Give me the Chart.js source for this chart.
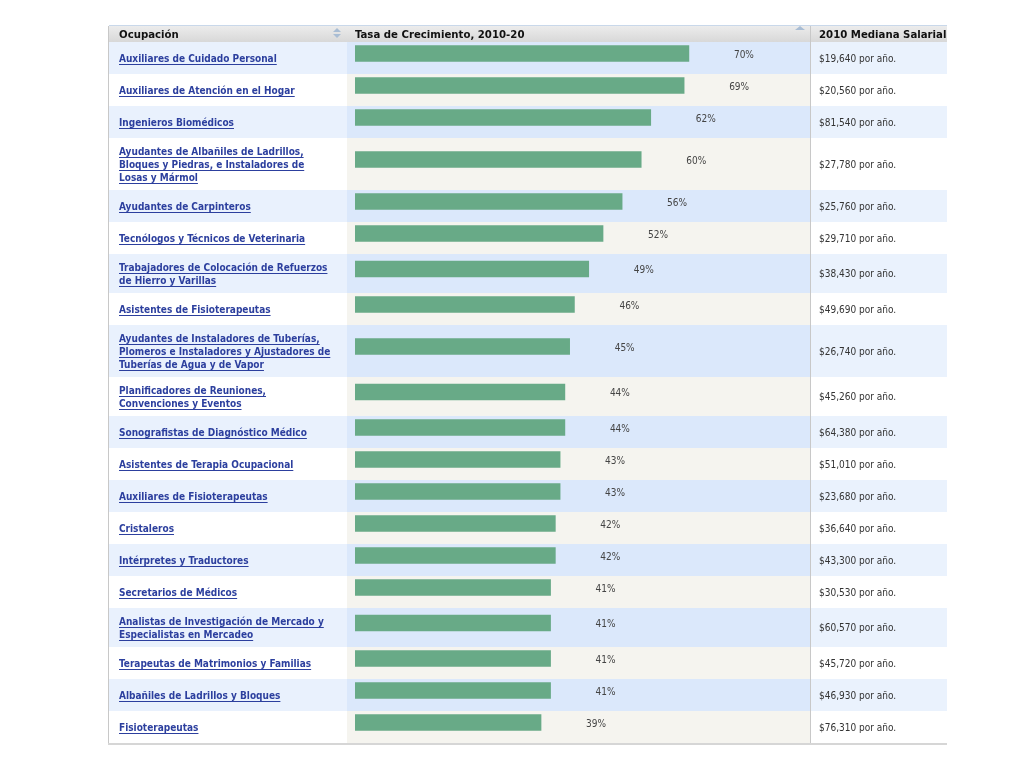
<!DOCTYPE html>
<html>
<head>
<meta charset="utf-8">
<script src="https://cdn.jsdelivr.net/npm/chart.js@4.4.1/dist/chart.umd.min.js"></script>
<style>
  html, body { margin: 0; background: #fff; }
  canvas { display: block; }
</style>
</head>
<body>
<canvas id="growthChart" width="1024" height="768"></canvas>
<script>
// datos de la tabla
const occupations = [
  'Auxiliares de Cuidado Personal',
  'Auxiliares de Atención en el Hogar',
  'Ingenieros Biomédicos',
  'Ayudantes de Albañiles de Ladrillos,\nBloques y Piedras, e Instaladores de\nLosas y Mármol',
  'Ayudantes de Carpinteros',
  'Tecnólogos y Técnicos de Veterinaria',
  'Trabajadores de Colocación de Refuerzos\nde Hierro y Varillas',
  'Asistentes de Fisioterapeutas',
  'Ayudantes de Instaladores de Tuberías,\nPlomeros e Instaladores y Ajustadores de\nTuberías de Agua y de Vapor',
  'Planificadores de Reuniones,\nConvenciones y Eventos',
  'Sonografistas de Diagnóstico Médico',
  'Asistentes de Terapia Ocupacional',
  'Auxiliares de Fisioterapeutas',
  'Cristaleros',
  'Intérpretes y Traductores',
  'Secretarios de Médicos',
  'Analistas de Investigación de Mercado y\nEspecialistas en Mercadeo',
  'Terapeutas de Matrimonios y Familias',
  'Albañiles de Ladrillos y Bloques',
  'Fisioterapeutas'
];
const growth = [70, 69, 62, 60, 56, 52, 49, 46, 45, 44, 44, 43, 43, 42, 42, 41, 41, 41, 41, 39];
const salaries = [19640, 20560, 81540, 27780, 25760, 29710, 38430, 49690, 26740, 45260,
                  64380, 51010, 23680, 36640, 43300, 30530, 60570, 45720, 46930, 76310];
const headers = ['Ocupación', 'Tasa de Crecimiento, 2010-20', '2010 Mediana Salarial'];

// layout de la tabla
const TABLE_LEFT = 109, COL_BAR = 347, COL_SAL = 810, TABLE_RIGHT = 947;
const HEAD_TOP = 26, ROWS_TOP = 42;
const ROW_H = { 1: 32, 2: 39, 3: 52 };
const LINE_H = 13;

const lines = occupations.map(o => o.split('\n'));
const heights = lines.map(l => ROW_H[l.length]);
const tops = [];
let acc = 0;
heights.forEach(h => { tops.push(acc); acc += h; });
const totalH = acc;
const centers = tops.map((t, i) => t + heights[i] / 2);

const FONT_LINK = 'bold 10px "DejaVu Sans Condensed", "DejaVu Sans", sans-serif';
const FONT_TEXT = '10px "DejaVu Sans Condensed", "DejaVu Sans", sans-serif';
const FONT_HEAD = 'bold 11.3px "DejaVu Sans Condensed", "DejaVu Sans", sans-serif';

const tablePlugin = {
  id: 'tablePlugin',
  beforeDatasetsDraw(chart) {
    const ctx = chart.ctx;
    const y = chart.scales.y;
    ctx.save();
    // encabezado
    const g = ctx.createLinearGradient(0, HEAD_TOP, 0, ROWS_TOP);
    g.addColorStop(0, '#ececec');
    g.addColorStop(1, '#d8d8d8');
    ctx.fillStyle = g;
    ctx.fillRect(TABLE_LEFT, HEAD_TOP, TABLE_RIGHT - TABLE_LEFT, ROWS_TOP - HEAD_TOP);
    ctx.fillStyle = '#c9d8ea';
    ctx.fillRect(TABLE_LEFT, HEAD_TOP - 1, TABLE_RIGHT - TABLE_LEFT, 1);
    // filas
    tops.forEach((t, i) => {
      const y0 = y.getPixelForValue(t);
      const y1 = y.getPixelForValue(t + heights[i]);
      const odd = i % 2 === 0;
      ctx.fillStyle = odd ? '#e9f1fd' : '#ffffff';
      ctx.fillRect(TABLE_LEFT, y0, COL_BAR - TABLE_LEFT, y1 - y0);
      ctx.fillStyle = odd ? '#dbe8fb' : '#f5f4ef';
      ctx.fillRect(COL_BAR, y0, COL_SAL - COL_BAR, y1 - y0);
      ctx.fillStyle = odd ? '#eaf2fd' : '#ffffff';
      ctx.fillRect(COL_SAL, y0, TABLE_RIGHT - COL_SAL, y1 - y0);
    });
    ctx.restore();
  },
  afterDatasetsDraw(chart) {
    const ctx = chart.ctx;
    const y = chart.scales.y;
    const bars = chart.getDatasetMeta(0).data;
    const bottom = y.getPixelForValue(totalH);
    ctx.save();

    // bordes
    ctx.fillStyle = '#c8c8c8';
    ctx.fillRect(TABLE_LEFT - 1, HEAD_TOP, 1, bottom - HEAD_TOP + 2);
    ctx.fillRect(COL_SAL, HEAD_TOP, 1, bottom - HEAD_TOP);
    ctx.fillStyle = '#d6d6d6';
    ctx.fillRect(TABLE_LEFT - 1, bottom, TABLE_RIGHT - TABLE_LEFT + 1, 2);

    // textos del encabezado
    ctx.save();
    ctx.beginPath();
    ctx.rect(TABLE_LEFT, HEAD_TOP, TABLE_RIGHT - TABLE_LEFT, ROWS_TOP - HEAD_TOP);
    ctx.clip();
    ctx.font = FONT_HEAD;
    ctx.fillStyle = '#111';
    ctx.textBaseline = 'alphabetic';
    ctx.textAlign = 'left';
    ctx.fillText(headers[0], 119, 38);
    ctx.fillText(headers[1], 355, 38);
    ctx.fillText(headers[2], 819, 38);
    ctx.restore();

    // iconos de orden
    ctx.fillStyle = '#a9bdd4';
    ctx.beginPath();
    ctx.moveTo(333, 32); ctx.lineTo(337, 28); ctx.lineTo(341, 32); ctx.closePath();
    ctx.moveTo(333, 34); ctx.lineTo(337, 38); ctx.lineTo(341, 34); ctx.closePath();
    ctx.fill();
    ctx.beginPath();
    ctx.moveTo(795, 30); ctx.lineTo(800, 26); ctx.lineTo(805, 30); ctx.closePath();
    ctx.fill();

    // ocupaciones (enlaces)
    ctx.font = FONT_LINK;
    ctx.textAlign = 'left';
    ctx.textBaseline = 'alphabetic';
    lines.forEach((ls, i) => {
      const cy = y.getPixelForValue(centers[i]);
      const first = cy - (ls.length - 1) * LINE_H / 2;
      ls.forEach((txt, k) => {
        const base = Math.round(first + k * LINE_H + 3.5);
        ctx.fillStyle = '#2c3f9e';
        ctx.fillText(txt, 119, base);
        const w = ctx.measureText(txt).width;
        ctx.fillRect(119, base + 2, w, 1);
      });
    });

    // porcentajes y salarios
    ctx.font = FONT_TEXT;
    bars.forEach((bar, i) => {
      const cy = y.getPixelForValue(centers[i]);
      ctx.fillStyle = '#444';
      ctx.textAlign = 'center';
      ctx.fillText(growth[i] + '%', bar.x + 55, Math.round(cy - 0.5));
      ctx.fillStyle = '#333';
      ctx.textAlign = 'left';
      ctx.fillText('$' + salaries[i].toLocaleString('en-US') + ' por año.', 819, Math.round(cy + 3.5));
    });
    ctx.restore();
  }
};

new Chart(document.getElementById('growthChart'), {
  type: 'bar',
  data: {
    datasets: [{
      label: 'Tasa de Crecimiento, 2010-20',
      data: growth.map((v, i) => ({ x: v, y: centers[i] - 4.5 })),
      backgroundColor: '#68aa87',
      borderWidth: 0,
      barThickness: 16
    }]
  },
  options: {
    indexAxis: 'y',
    responsive: false,
    animation: false,
    layout: { padding: { left: 355, right: 192, top: ROWS_TOP, bottom: 768 - ROWS_TOP - totalH } },
    scales: {
      x: { type: 'linear', min: 0, max: 100, display: false },
      y: { type: 'linear', min: 0, max: totalH, reverse: true, offset: false, display: false }
    },
    plugins: {
      legend: { display: false },
      tooltip: { enabled: false }
    }
  },
  plugins: [tablePlugin]
});
</script>
</body>
</html>
